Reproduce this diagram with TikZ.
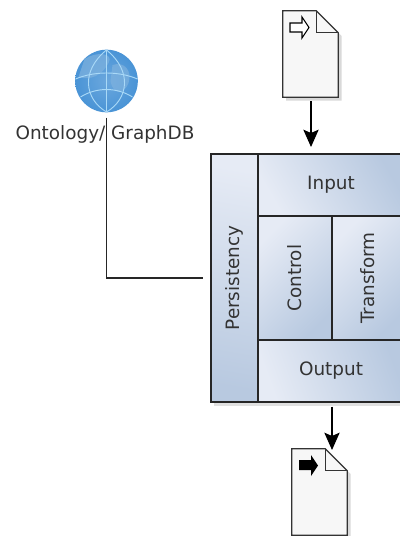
\documentclass[tikz,border=0pt]{standalone}
\usepackage{fontspec}
\setmainfont{DejaVu Sans}
\usetikzlibrary{arrows.meta,calc,shadows}
\definecolor{panellight}{HTML}{E6EBF5}
\definecolor{paneldark}{HTML}{B8C9E0}
\definecolor{globeblue}{HTML}{4A94D6}
\definecolor{globeline}{HTML}{A9D9F7}
\definecolor{globeland}{HTML}{7FB2DE}
\definecolor{inktext}{HTML}{333333}
\newcommand{\pagesheet}[1]{
\draw[sheetline,fill=black!3,
  drop shadow={shadow xshift=2.5pt,shadow yshift=-2.5pt,opacity=.15,fill=black}]
  (#1.north west) -- ($(#1.north east)+(-22,0)$) -- ($(#1.north east)+(0,22)$) -- (#1.south east) -- (#1.south west) -- cycle;
\draw[sheetline] ($(#1.north east)+(-22,0)$) -- ($(#1.north east)+(-22,22)$) -- ($(#1.north east)+(0,22)$);
}
\begin{document}
\begin{tikzpicture}[x=0.75pt, y=-0.75pt]
\tikzset{panel/.style={draw=black!85,line width=0.9pt,inner sep=0,font=\fontsize{13.8}{16}\selectfont,text=inktext,
  left color=panellight,right color=paneldark,shading angle=#1},
sheetnode/.style={inner sep=0,minimum width=41.25pt,minimum height=64.5pt},
sheetline/.style={draw=black!80,line width=0.9pt},
flow/.style={line width=0.9pt,-{Stealth[length=13pt,width=11.5pt,inset=2.5pt]}},
link/.style={line width=0.9pt,draw=black!85},
globeedge/.style={globeline,line width=0.7pt},
globenode/.style={circle,inner sep=0,minimum size=47pt}}

\useasboundingbox (0,0) rectangle (400,536);

\fill[black,opacity=.12] (214,157) rectangle (404,406);

\node (persistency) [panel=-10,minimum width=35.25pt,minimum height=186pt] at (234.5,278) {\rotatebox{90}{Persistency}};
\node (input) [panel=120,minimum width=109.5pt,minimum height=46.5pt] at (331,185) {Input};
\node (control) [panel=45,minimum width=55.5pt,minimum height=93pt] at (295,278) {\rotatebox{90}{Control}};
\node (transform) [panel=45,minimum width=54pt,minimum height=93pt] at (368,278) {\rotatebox{90}{Transform}};
\node (output) [panel=110,minimum width=109.5pt,minimum height=46.5pt] at (331,371) {Output};

\node (docin) [sheetnode] at (310.5,54) {};
\node (docout) [sheetnode] at (319.5,492) {};
\pagesheet{docin}
\pagesheet{docout}

\coordinate (inhead) at (311,147);
\coordinate (outhead) at (332,450);

%% Icons on the sheets
\draw[line width=0.8pt,fill=white] (290,23) -- (302,23) -- (302,17) -- (309,27.5) -- (302,38) -- (302,32) -- (290,32) -- cycle;
\fill[black] (299,460) -- (311,460) -- (311,455) -- (318,465.5) -- (311,476) -- (311,470) -- (299,470) -- cycle;

%% Globe
\node (globe) [globenode,shade,inner color=globeblue!82!white,outer color=globeblue,
  path picture={
  \fill[globeland,opacity=.7] (-22,-22) .. controls (-10,-30) and (8,-28) .. (2,-18) .. controls (-4,-6) and (-16,0) .. (-28,-4) -- cycle;
  \fill[globeland,opacity=.7] (6,-16) .. controls (18,-20) and (26,-10) .. (22,2) .. controls (16,16) and (6,12) .. (4,0) -- cycle;
  \draw[globeedge] (0,-31) -- (0,31);
  \draw[globeedge] (0,-31) .. controls (-26,-10) and (-22,18) .. (0,31);
  \draw[globeedge] (0,-31) .. controls (26,-10) and (22,18) .. (0,31);
  \draw[globeedge] (-31,-2) .. controls (-12,-10) and (12,-10) .. (31,-2);
  \draw[globeedge] (-26,16) .. controls (-10,6) and (10,6) .. (26,16);
  }] at (106.5,81) {};

%% Edges
\draw[flow] (docin.south -| inhead) ++(0,4) -- (inhead);
\draw[flow] (outhead |- output.south) ++(0,4) -- (outhead);
\draw[link,shorten <=3.75pt,shorten >=5.25pt] (globe.south) |- (persistency.west);

\node (ontology) [font=\fontsize{13.8}{16}\selectfont,text=inktext] at (105,134) {Ontology/ GraphDB};
\end{tikzpicture}
\end{document}
